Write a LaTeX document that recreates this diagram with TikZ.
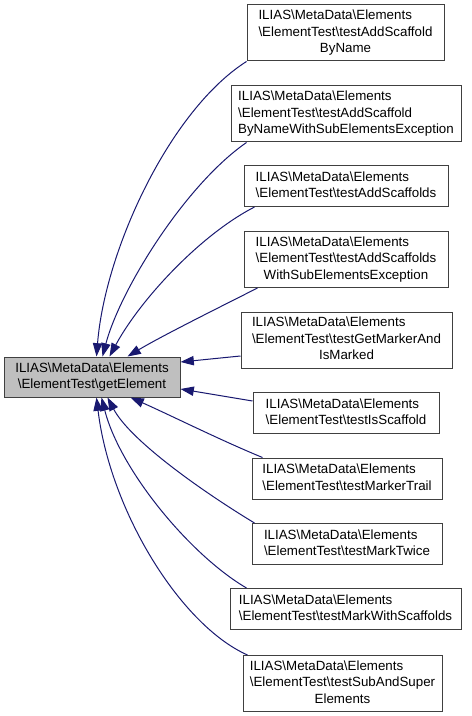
\documentclass[tikz,border=0pt]{standalone}
\usepackage{fontspec}
\setmainfont{Liberation Sans}
\usepackage{tikz}
\usetikzlibrary{arrows.meta, calc}
\usepackage{xcolor}
\definecolor{EdgeBlue}{HTML}{191970}
\definecolor{BoxGrey}{HTML}{BFBFBF}
\definecolor{BoxLine}{HTML}{404040}
\newcommand{\bsl}{\textbackslash}
\newcommand{\fnthree}[2]{\begin{tabular}{@{}l@{}}ILIAS\bsl MetaData\bsl Elements\\#1\\\multicolumn{1}{@{}c@{}}{#2}\end{tabular}}
\newcommand{\fntwo}[1]{\begin{tabular}{@{}l@{}}ILIAS\bsl MetaData\bsl Elements\\\multicolumn{1}{@{}c@{}}{#1}\end{tabular}}

\begin{document}
\begin{tikzpicture}[x=0.75pt, y=-0.75pt, >={Triangle[length=10pt, width=7pt]},
  font=\fontsize{10}{12.4}\selectfont,
  fn/.style 2 args={draw=BoxLine, line width=0.75pt, inner sep=0pt, fill=white,
    minimum width=#1*0.75pt, minimum height=#2*0.75pt},
  edge/.style={<-, EdgeBlue, line width=0.75pt}]
  \useasboundingbox (0,0) rectangle (471,716);
  % Called function
  \node[fn={176}{40}, fill=BoxGrey] (main) at (92,377) {\fntwo{\bsl ElementTest\bsl getElement}};
  % Callers
  \node[fn={197}{56}] (addByName) at (345.5,33) {\fnthree{\bsl ElementTest\bsl testAddScaffold}{ByName}};
  \node[fn={230}{56}] (addByNameExc) at (346,114) {\fnthree{\bsl ElementTest\bsl testAddScaffold}{ByNameWithSubElementsException}};
  \node[fn={204}{41}] (addScaffolds) at (346,186) {\fntwo{\bsl ElementTest\bsl testAddScaffolds}};
  \node[fn={204}{56}] (addScaffoldsExc) at (346,259.5) {\fnthree{\bsl ElementTest\bsl testAddScaffolds}{WithSubElementsException}};
  \node[fn={211}{56}] (getMarker) at (346.5,340) {\fnthree{\bsl ElementTest\bsl testGetMarkerAnd}{IsMarked}};
  \node[fn={186}{41}] (isScaffold) at (346,413) {\fntwo{\bsl ElementTest\bsl testIsScaffold}};
  \node[fn={190}{41}] (markerTrail) at (347,478.5) {\fntwo{\bsl ElementTest\bsl testMarkerTrail}};
  \node[fn={190}{41}] (markTwice) at (347,544) {\fntwo{\bsl ElementTest\bsl testMarkTwice}};
  \node[fn={231}{41}] (markScaffolds) at (345.5,609) {\fntwo{\bsl ElementTest\bsl testMarkWithScaffolds}};
  \node[fn={199}{56}] (subSuper) at (342.5,683.5) {\fnthree{\bsl ElementTest\bsl testSubAndSuper}{Elements}};
  % Edges above
  \draw[edge] ($(main.north west)+(93,0)$) .. controls (105,250) and (170,110) .. (addByName.south west);
  \draw[edge] ($(main.north west)+(99,0)$) .. controls (120,290) and (185,185) .. ($(addByNameExc.south west)+(16,0)$);
  \draw[edge] ($(main.north west)+(106,0)$) .. controls (140,300) and (200,235) .. ($(addScaffolds.south west)+(11,0)$);
  \draw[edge] ($(main.north west)+(124,0)$) .. controls (160,337) and (210,312) .. ($(addScaffoldsExc.south west)+(14,0)$);
  % Straight edges
  \draw[edge] ($(main.east)+(0,-15)$) -- ($(getMarker.west)+(0,16)$);
  \draw[edge] ($(main.east)+(0,12)$) -- ($(isScaffold.west)+(0,-12)$);
  % Edges below
  \draw[edge] ($(main.south west)+(127,0)$) .. controls (170,415) and (220,440) .. ($(markerTrail.north west)+(11,0)$);
  \draw[edge] ($(main.south west)+(104,0)$) .. controls (130,440) and (200,490) .. ($(markTwice.north west)+(3,0)$);
  \draw[edge] ($(main.south west)+(98,0)$) .. controls (120,470) and (190,555) .. ($(markScaffolds.north west)+(17,0)$);
  \draw[edge] ($(main.south west)+(93,0)$) .. controls (110,510) and (180,625) .. ($(subSuper.north west)+(5,0)$);
\end{tikzpicture}
\end{document}
